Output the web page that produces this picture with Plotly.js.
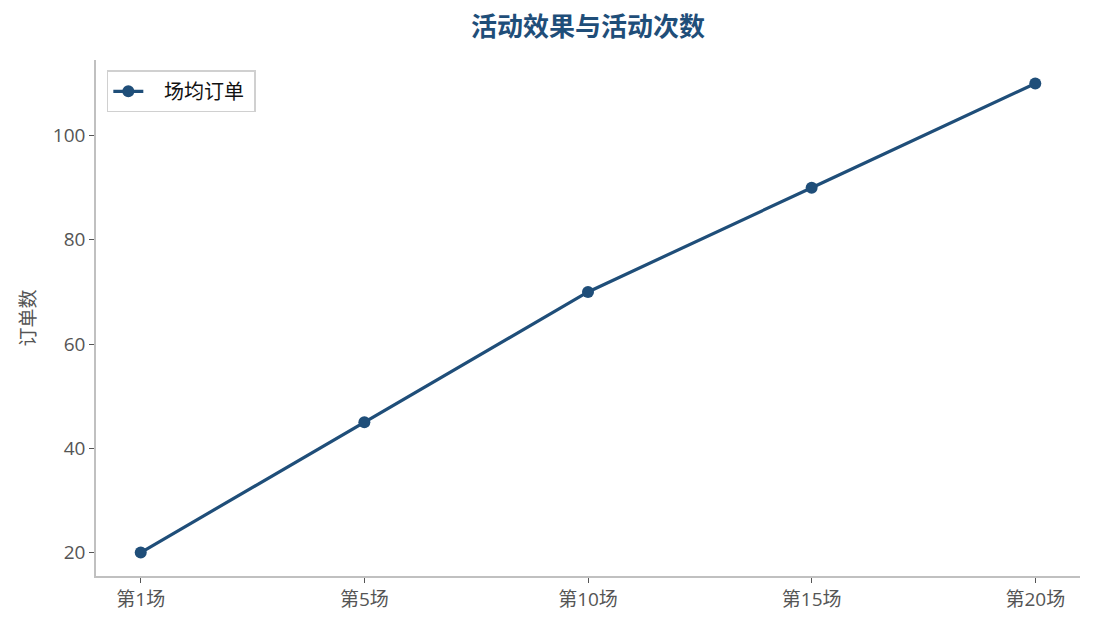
<!DOCTYPE html>
<html>
<head>
<meta charset="utf-8">
<script src="https://cdn.plot.ly/plotly-3.0.1.min.js"></script>
<style>
  html, body { margin: 0; padding: 0; background: #fff; }
  #chart { width: 1095px; height: 629px; }
</style>
</head>
<body>
<div id="chart"></div>
<script>
// 活动次数 vs 场均订单
var sessions = ['第1场', '第5场', '第10场', '第15场', '第20场'];
var avgOrders = [20, 45, 70, 90, 110];

var mainColor = '#1f4e79';
var font = '"Open Sans", "Noto Sans CJK SC", sans-serif';

var trace = {
  x: sessions,
  y: avgOrders,
  mode: 'lines+markers',
  type: 'scatter',
  name: '&nbsp;&nbsp;&nbsp;场均订单&nbsp;',
  line: { color: mainColor, width: 3.2 },
  marker: { color: mainColor, size: 12 }
};

var layout = {
  width: 1095,
  height: 629,
  margin: { l: 96, r: 15, t: 60, b: 53 },
  paper_bgcolor: '#fff',
  plot_bgcolor: '#fff',
  font: { family: font, size: 19, color: '#555' },
  title: {
    text: '<b>活动效果与活动次数</b>',
    font: { family: '"Noto Sans CJK SC", sans-serif', size: 26, color: mainColor },
    x: 0.5, xref: 'paper', y: 0.957, yanchor: 'middle'
  },
  showlegend: true,
  legend: {
    x: 0.011, y: 0.98, xanchor: 'left', yanchor: 'top',
    bgcolor: '#fff', bordercolor: '#d0d0d0', borderwidth: 1.5,
    font: { family: font, size: 20, color: '#111' }
  },
  xaxis: {
    type: 'category',
    range: [-0.2, 4.2],
    showline: true, linecolor: '#c0c0c0', linewidth: 1.5,
    showgrid: false, zeroline: false,
    ticks: 'outside', ticklen: 5, tickcolor: '#555', tickwidth: 1.2,
    tickfont: { family: font, size: 19, color: '#555' }
  },
  yaxis: {
    range: [15.5, 114.5],
    tickvals: [20, 40, 60, 80, 100],
    showline: true, linecolor: '#c0c0c0', linewidth: 1.5,
    showgrid: false, zeroline: false,
    ticks: 'outside', ticklen: 5, tickcolor: '#555', tickwidth: 1.2,
    tickfont: { family: font, size: 19, color: '#555' },
    title: { text: '订单数', font: { family: font, size: 19, color: '#555' }, standoff: 12 }
  }
};

Plotly.newPlot('chart', [trace], layout, { displayModeBar: false });
</script>
</body>
</html>
